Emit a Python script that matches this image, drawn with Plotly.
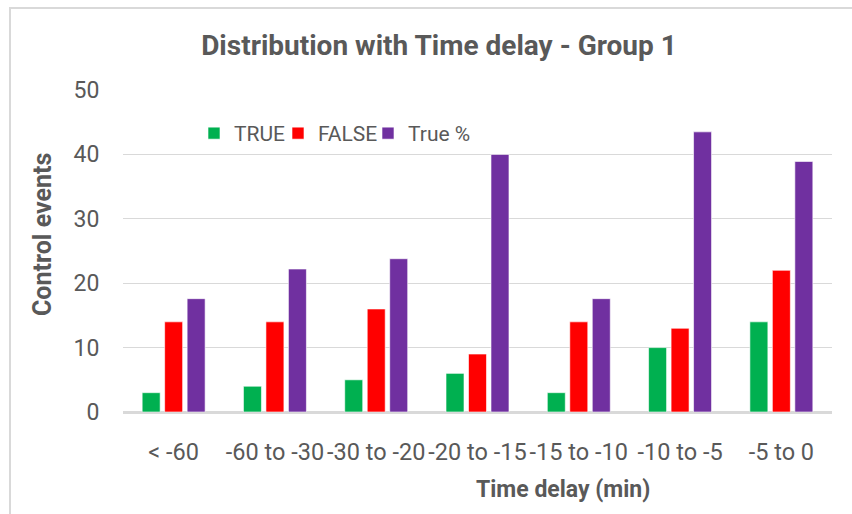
import plotly.graph_objects as go

categories = ["< -60", "-60 to -30", "-30 to -20", "-20 to -15", "-15 to -10", "-10 to -5", "-5 to 0"]
true_counts = [3, 4, 5, 6, 3, 10, 14]
false_counts = [14, 14, 16, 9, 14, 13, 22]
true_pct = [17.6, 22.2, 23.8, 40.0, 17.6, 43.5, 38.9]
y_ticks = [0, 10, 20, 30, 40, 50]

FONT = "Roboto, 'Liberation Sans', sans-serif"
GRAY = "#595959"

W, H = 852, 514
L, R, T, B = 123, 20, 90, 102
PW = W - L - R
PH = H - T - B

def px_x(px):
    return (px - L) / PW

def px_y(py):
    return (H - B - py) / PH

fig = go.Figure()
fig.add_trace(go.Bar(name="TRUE", x=categories, y=true_counts, legend="legend",
                     marker=dict(color="#00B050", line=dict(color="white", width=0.6))))
fig.add_trace(go.Bar(name="FALSE", x=categories, y=false_counts, legend="legend2",
                     marker=dict(color="#FF0000", line=dict(color="white", width=0.6))))
fig.add_trace(go.Bar(name="True %", x=categories, y=true_pct, legend="legend3",
                     marker=dict(color="#7030A0", line=dict(color="white", width=0.6))))

def leg(sq_left):
    return dict(orientation="h", x=px_x(sq_left - 15), xanchor="left",
                y=px_y(133.5), yanchor="middle",
                bgcolor="rgba(0,0,0,0)", font=dict(family=FONT, size=21, color=GRAY),
                itemwidth=30)

fig.update_layout(
    width=W, height=H,
    margin=dict(l=L, r=R, t=T, b=B),
    paper_bgcolor="white", plot_bgcolor="white",
    barmode="group", bargap=0.334, bargroupgap=0.2,
    font=dict(family=FONT, color=GRAY, size=22),
    title=dict(text="<b>Distribution with Time delay - Group 1</b>",
               x=439 / W, xanchor="center", y=1 - 45 / H, yanchor="middle",
               font=dict(family=FONT, size=28, color=GRAY)),
    legend=leg(209),
    legend2=leg(293),
    legend3=leg(383),
    showlegend=True,
    xaxis=dict(showgrid=False, showline=False, zeroline=False,
               ticks="outside", ticklen=19, tickcolor="rgba(0,0,0,0)",
               tickfont=dict(size=23.5, color=GRAY)),
    yaxis=dict(range=[0, 50], tickvals=y_ticks, showgrid=True,
               gridcolor="#D9D9D9", gridwidth=1.3, zeroline=True,
               zerolinecolor="#D9D9D9", zerolinewidth=2.5, showline=False,
               ticks="outside", ticklen=18, tickcolor="rgba(0,0,0,0)",
               tickfont=dict(size=23, color=GRAY)),
)

# axis titles
fig.add_annotation(text="<b>Control events</b>", xref="paper", yref="paper",
                   x=px_x(42), y=px_y(235),
                   textangle=-90, showarrow=False,
                   font=dict(family=FONT, size=25, color=GRAY),
                   xanchor="center", yanchor="middle")
fig.add_annotation(text="<b>Time delay (min)</b>", xref="paper", yref="paper",
                   x=px_x(563), y=px_y(489),
                   showarrow=False,
                   font=dict(family=FONT, size=23, color=GRAY),
                   xanchor="center", yanchor="middle")

# chart border
fig.add_shape(type="rect", xref="paper", yref="paper",
              x0=px_x(10), x1=px_x(870),
              y0=px_y(530), y1=px_y(8),
              line=dict(color="#D9D9D9", width=2), fillcolor="rgba(0,0,0,0)",
              layer="below")

fig.write_html("out.html", config={"displayModeBar": False},
               post_script="document.body.style.margin='0';document.body.style.padding='0';")
